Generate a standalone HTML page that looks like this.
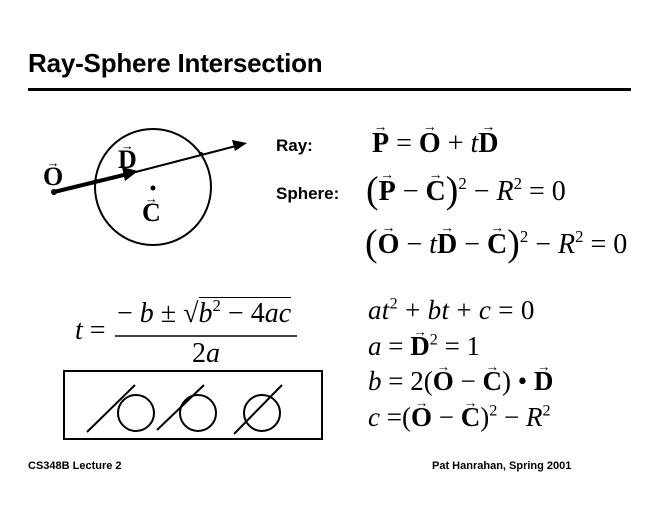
<!DOCTYPE html>
<html><head><meta charset="utf-8"><style>
body{margin:0;width:660px;height:510px;background:#fff;position:relative;overflow:hidden;font-family:"Liberation Serif",serif;color:#000}
.a{position:absolute;white-space:nowrap;line-height:1}
.s{font-family:"Liberation Sans",sans-serif;font-weight:bold}
.m{font-family:"Liberation Serif",serif}
.v{position:relative;display:inline-block;font-weight:bold;font-style:normal}
.v::before{content:"→";position:absolute;font-size:.5em;top:-.62em;left:50%;transform:translateX(-50%);font-weight:normal}
i{font-style:italic}
sup{font-size:.6em;vertical-align:.65em;line-height:0}
.big{font-size:1.35em;line-height:0;vertical-align:-.07em;font-weight:normal}
</style></head><body>
<div class="a s" style="left:28px;top:50px;font-size:26px;letter-spacing:-0.2px">Ray-Sphere Intersection</div>
<div style="position:absolute;left:28px;top:88px;width:603px;height:3px;background:#000"></div>
<svg class="a" style="left:0;top:0" width="660" height="510">
<circle cx="153" cy="187" r="58" fill="none" stroke="#000" stroke-width="2"/>
<line x1="54" y1="192" x2="128" y2="174" stroke="#000" stroke-width="4"/>
<polygon points="138,171 122,167 125,181" fill="#000"/>
<line x1="128" y1="174" x2="236" y2="146" stroke="#000" stroke-width="2"/>
<polygon points="247,143 232,140 235,151" fill="#000"/>
<circle cx="54" cy="192" r="3" fill="#000"/>
<circle cx="153" cy="188" r="2.5" fill="#000"/>
<circle cx="96" cy="181" r="2" fill="#000"/>
<circle cx="201" cy="154" r="2" fill="#000"/>
<line x1="115" y1="336" x2="297" y2="336" stroke="#000" stroke-width="1.5"/>
<rect x="64" y="371" width="258" height="68" fill="none" stroke="#000" stroke-width="2"/>
<circle cx="136" cy="413" r="18" fill="none" stroke="#000" stroke-width="2"/>
<circle cx="198" cy="413" r="18" fill="none" stroke="#000" stroke-width="2"/>
<circle cx="262" cy="413" r="18" fill="none" stroke="#000" stroke-width="2"/>
<line x1="87" y1="432" x2="135" y2="385" stroke="#000" stroke-width="2"/>
<line x1="157" y1="430" x2="204" y2="385" stroke="#000" stroke-width="2"/>
<line x1="234" y1="434" x2="282" y2="385" stroke="#000" stroke-width="2"/>
</svg>
<div class="a m" style="left:43px;top:164px;font-size:26px"><span class="v">O</span></div>
<div class="a m" style="left:118px;top:147px;font-size:26px"><span class="v">D</span></div>
<div class="a m" style="left:142px;top:200px;font-size:26px"><span class="v">C</span></div>

<div class="a s" style="left:276px;top:137px;font-size:17px">Ray:</div>
<div class="a s" style="left:276px;top:185px;font-size:17px">Sphere:</div>
<div class="a m" style="left:372px;top:130px;font-size:28px"><span class="v">P</span> = <span class="v">O</span> + <i>t</i><span class="v">D</span></div>
<div class="a m" style="left:366px;top:178px;font-size:28px"><span class="big">(</span><span class="v">P</span> − <span class="v">C</span><span class="big">)</span><sup>2</sup> − <i>R</i><sup>2</sup> = 0</div>
<div class="a m" style="left:365px;top:231px;font-size:28px"><span class="big">(</span><span class="v">O</span> − <i>t</i><span class="v">D</span> − <span class="v">C</span><span class="big">)</span><sup>2</sup> − <i>R</i><sup>2</sup> = 0</div>

<div class="a m" style="left:75px;top:317px;font-size:28px"><i>t</i> =</div>
<div class="a m" style="left:117px;top:300px;font-size:28px">− <i>b</i> ± √<span style="border-top:1.5px solid #000"><i>b</i><sup>2</sup> − 4<i>ac</i></span></div>
<div class="a m" style="left:192px;top:340px;font-size:28px">2<i>a</i></div>

<div class="a m" style="left:368px;top:297px;font-size:27px;letter-spacing:0.3px"><i>at</i><sup>2</sup> + <i>bt</i> + <i>c</i> = 0</div>
<div class="a m" style="left:368px;top:333px;font-size:27px"><i>a</i> = <span class="v">D</span><sup>2</sup> = 1</div>
<div class="a m" style="left:368px;top:368px;font-size:27px"><i>b</i> = 2(<span class="v">O</span> − <span class="v">C</span>) • <span class="v">D</span></div>
<div class="a m" style="left:368px;top:404px;font-size:27px"><i>c</i> =(<span class="v">O</span> − <span class="v">C</span>)<sup>2</sup> − <i>R</i><sup>2</sup></div>

<div class="a s" style="left:28px;top:461px;font-size:11px">CS348B Lecture 2</div>
<div class="a s" style="left:432px;top:461px;font-size:11px">Pat Hanrahan, Spring 2001</div>
</body></html>
